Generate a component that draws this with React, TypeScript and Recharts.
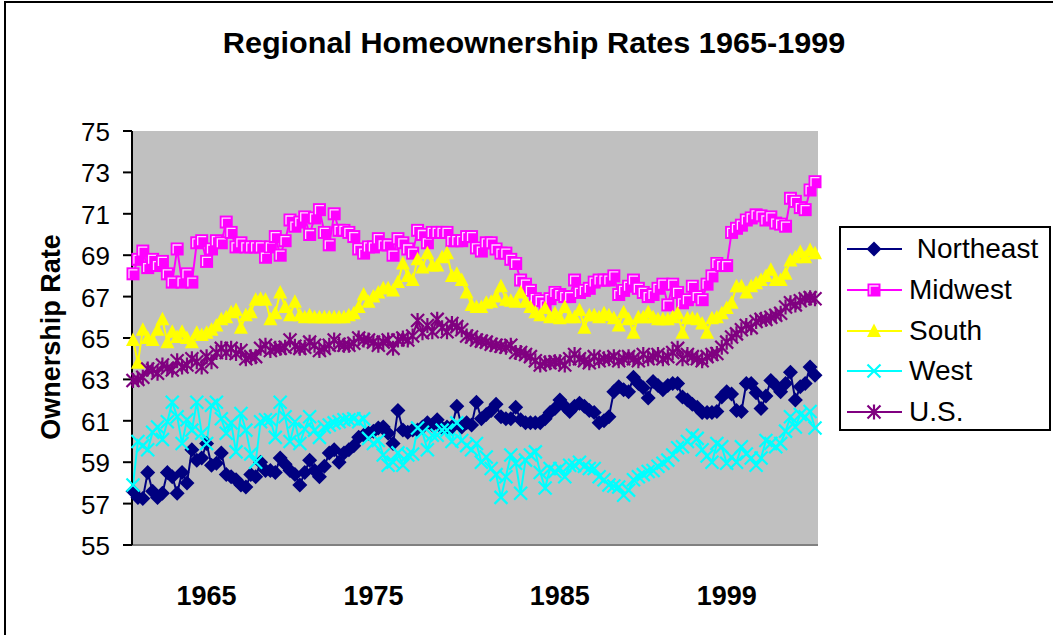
import * as React from 'react';
import { CartesianGrid, Legend, Line, LineChart, XAxis, YAxis } from 'recharts';

// quarterly categories, 1965 Q1 .. 1999 Q4
const years: number[] = [];
for (let y = 1965; y <= 1999; y++) years.push(y);
const quarters: string[] = years.flatMap((y) => [1, 2, 3, 4].map((q) => `${y} Q${q}`));

// the year labels under the plot are hand-placed text boxes in the original
const xTickCategories = ['1968 Q4', '1977 Q2', '1986 Q4', '1995 Q2'];
const xTickLabels = ['1965', '1975', '1985', '1999'];
const yTicks = [55, 57, 59, 61, 63, 65, 67, 69, 71, 73, 75];

const northeast = [
    57.6, 57.3, 57.25, 58.5, 57.6, 57.3, 57.5, 58.5, 58.3, 57.5,
    58.5, 58.0, 59.6, 59.1, 59.2, 59.9, 58.85, 58.95, 59.45, 58.4,
    58.3, 58.15, 57.9, 57.8, 58.4, 58.3, 59.0, 58.6, 58.6, 58.5,
    59.2, 58.9, 58.6, 58.4, 57.9, 58.5, 59.1, 58.6, 58.3, 58.8,
    59.45, 59.6, 59.0, 59.45, 59.6, 59.8, 60.2, 60.3, 60.4, 60.5,
    60.65, 60.7, 60.4, 59.9, 61.5, 60.55, 60.45, 60.55, 60.55, 60.7,
    60.9, 60.8, 61.05, 60.65, 60.7, 60.7, 61.7, 60.7, 60.9, 60.8,
    61.9, 61.1, 61.3, 61.5, 61.8, 61.2, 61.1, 61.1, 61.65, 61.05,
    60.9, 60.9, 60.9, 60.9, 61.1, 61.4, 61.6, 62.0, 61.7, 61.45,
    61.7, 61.85, 61.7, 61.5, 61.4, 60.9, 61.0, 61.2, 62.4, 62.65,
    62.5, 62.4, 63.1, 62.8, 62.6, 62.1, 62.9, 62.7, 62.5, 62.7,
    62.8, 62.8, 62.15, 62.0, 61.8, 61.65, 61.4, 61.4, 61.4, 61.45,
    62.15, 62.4, 62.3, 61.5, 61.45, 62.8, 62.8, 62.35, 61.6, 62.2,
    62.95, 62.7, 62.4, 62.8, 63.35, 62.0, 62.65, 62.8, 63.6, 63.2,
];

const midwest = [
    68.1, 68.8, 69.2, 68.4, 68.8, 68.5, 68.7, 68.1, 67.7, 69.3,
    67.7, 68.1, 67.7, 69.6, 69.7, 68.7, 69.3, 69.7, 69.6, 70.6,
    70.1, 69.4, 69.6, 69.4, 69.4, 69.4, 69.4, 68.9, 69.4, 69.9,
    69.0, 69.7, 70.7, 70.4, 70.6, 70.85, 70.0, 70.8, 71.2, 70.1,
    69.5, 71.0, 70.2, 70.2, 70.1, 69.9, 69.3, 69.1, 69.4, 69.4,
    69.8, 69.5, 69.5, 69.0, 69.8, 69.6, 69.3, 69.1, 70.2, 70.0,
    69.6, 70.1, 70.1, 70.1, 70.1, 69.7, 69.7, 69.7, 69.9, 69.9,
    69.35, 69.2, 69.6, 69.6, 69.3, 69.1, 69.1, 68.8, 68.6, 67.8,
    67.6, 67.3, 66.9, 66.8, 66.6, 66.9, 67.2, 67.1, 67.0, 67.0,
    67.8, 67.2, 67.3, 67.4, 67.7, 67.8, 67.8, 67.8, 68.0, 67.1,
    67.3, 67.5, 67.8, 67.4, 67.2, 67.0, 67.1, 67.4, 67.6, 66.6,
    67.6, 67.2, 66.7, 66.85, 67.5, 67.0, 66.85, 67.6, 68.0, 68.6,
    68.5, 68.5, 70.1, 70.3, 70.45, 70.7, 70.8, 70.95, 70.9, 70.7,
    70.85, 70.55, 70.5, 70.4, 71.75, 71.6, 71.3, 71.2, 72.15, 72.55,
];

const south = [
    64.9, 63.8, 65.4, 65.0, 64.9, 65.4, 65.9, 64.8, 65.3, 65.05,
    65.3, 65.0, 64.8, 65.25, 65.15, 65.25, 65.4, 65.6, 65.9, 66.0,
    66.25, 66.35, 65.5, 66.1, 66.25, 66.85, 66.9, 66.85, 65.9, 66.2,
    67.2, 66.5, 66.1, 66.75, 66.1, 66.0, 66.1, 66.0, 66.0, 66.0,
    66.0, 66.0, 66.0, 66.0, 66.1, 66.2, 66.5, 67.1, 66.75, 67.0,
    67.2, 67.4, 67.4, 67.3, 67.7, 68.6, 68.0, 67.8, 68.8, 68.4,
    69.1, 68.5, 68.5, 68.9, 69.1, 68.0, 68.1, 67.8, 67.2, 66.6,
    66.5, 66.5, 66.7, 66.75, 67.0, 67.5, 66.85, 66.8, 66.75, 67.2,
    66.75, 66.5, 66.25, 66.1, 66.45, 66.0, 66.2, 65.95, 66.5, 66.0,
    66.0, 66.35, 65.5, 66.1, 66.1, 66.0, 66.2, 66.1, 65.95, 65.6,
    66.25, 65.9, 65.25, 66.0, 66.0, 66.25, 66.0, 65.9, 65.9, 65.9,
    66.0, 66.2, 65.25, 65.95, 65.95, 65.9, 65.7, 65.25, 65.95, 66.0,
    66.2, 66.45, 66.7, 67.5, 67.5, 67.2, 67.5, 67.65, 67.8, 68.0,
    68.3, 67.8, 67.8, 68.1, 68.75, 68.9, 69.15, 68.9, 69.25, 69.1,
];

const west = [
    57.9, 60.0, 59.8, 59.6, 60.45, 60.7, 60.1, 60.95, 61.9, 61.2,
    59.9, 61.05, 60.55, 61.9, 60.4, 59.9, 61.75, 61.9, 61.1, 60.4,
    60.9, 59.5, 61.35, 60.55, 59.4, 59.0, 60.95, 61.05, 61.05, 60.2,
    61.9, 61.2, 60.0, 60.95, 59.9, 60.6, 61.2, 60.55, 60.2, 60.7,
    60.8, 60.9, 60.95, 61.05, 61.05, 61.1, 60.95, 61.1, 60.15, 59.9,
    60.05, 59.35, 58.85, 59.0, 59.45, 58.85, 59.35, 59.4, 60.65, 60.45,
    59.6, 60.3, 60.3, 60.55, 60.55, 60.0, 60.9, 60.05, 59.8, 59.6,
    59.9, 59.0, 59.25, 58.7, 58.4, 57.3, 58.3, 59.35, 58.95, 57.5,
    59.1, 59.35, 59.5, 58.5, 57.75, 58.7, 58.55, 58.7, 58.3, 58.85,
    58.85, 59.0, 58.8, 58.7, 58.7, 58.3, 58.15, 57.9, 57.85, 57.8,
    57.4, 57.65, 58.15, 58.3, 58.4, 58.55, 58.6, 58.8, 58.95, 59.1,
    59.35, 59.7, 59.75, 60.0, 60.3, 60.15, 59.6, 59.3, 59.0, 59.9,
    59.75, 58.95, 59.25, 59.0, 59.75, 59.4, 59.2, 58.85, 59.2, 60.05,
    59.9, 59.75, 59.9, 60.5, 61.2, 60.7, 61.3, 61.2, 61.45, 60.65,
];

const us = [
    62.95, 63.0, 63.1, 63.5, 63.45, 63.3, 63.7, 63.55, 63.45, 63.9,
    63.6, 63.7, 64.0, 63.85, 63.6, 64.1, 63.85, 64.3, 64.5, 64.3,
    64.5, 64.25, 64.4, 64.0, 64.1, 64.1, 64.5, 64.65, 64.4, 64.5,
    64.5, 64.55, 64.9, 64.6, 64.5, 64.55, 64.8, 64.65, 64.4, 64.5,
    64.65, 64.9, 64.7, 64.65, 64.65, 64.75, 65.0, 64.9, 64.9, 64.8,
    64.65, 64.8, 64.9, 64.5, 64.9, 65.0, 64.9, 65.1, 65.85, 65.25,
    65.6, 65.3, 65.9, 65.5, 65.3, 65.7, 65.55, 65.4, 65.1, 65.05,
    64.9, 64.85, 64.8, 64.7, 64.65, 64.6, 64.55, 64.65, 64.3, 64.3,
    64.2, 64.1, 63.9, 63.7, 63.8, 63.8, 63.85, 63.85, 63.7, 64.0,
    64.2, 64.0, 63.9, 63.8, 64.1, 63.9, 64.0, 64.0, 64.1, 63.9,
    64.0, 64.1, 64.0, 63.9, 64.2, 64.0, 64.1, 64.2, 64.0, 64.1,
    64.3, 64.5, 64.0, 64.2, 64.1, 64.0, 63.9, 64.1, 64.2, 64.25,
    64.55, 64.8, 65.05, 65.2, 65.4, 65.6, 65.5, 65.8, 65.9, 65.9,
    66.0, 66.1, 66.2, 66.5, 66.7, 66.6, 66.8, 66.9, 66.95, 66.9,
];

type Shape = 'diamond' | 'square' | 'triangle' | 'x' | 'star';

const seriesMeta: { key: string; name: string; color: string; shape: Shape }[] = [
    { key: 'northeast', name: ' Northeast', color: '#000080', shape: 'diamond' },
    { key: 'midwest', name: 'Midwest', color: '#FF00FF', shape: 'square' },
    { key: 'south', name: 'South', color: '#FFFF00', shape: 'triangle' },
    { key: 'west', name: 'West', color: '#00FFFF', shape: 'x' },
    { key: 'us', name: 'U.S.', color: '#800080', shape: 'star' },
];

const chartData = quarters.map((quarter, i) => ({
    quarter,
    northeast: northeast[i],
    midwest: midwest[i],
    south: south[i],
    west: west[i],
    us: us[i],
}));

const FONT = '"Liberation Sans", Arial, Helvetica, sans-serif';

function Marker({ shape, color, cx, cy }: { shape: Shape; color: string; cx: number; cy: number }) {
    switch (shape) {
        case 'diamond':
            return <path d={`M${cx},${cy - 7.5}L${cx + 7.5},${cy}L${cx},${cy + 7.5}L${cx - 7.5},${cy}Z`} fill={color} />;
        case 'square':
            return (
                <g>
                    <rect x={cx - 6.5} y={cy - 6.5} width={13} height={13} fill={color} />
                    <path d={`M${cx - 4},${cy + 4.5}V${cy - 4}H${cx + 4.5}`} fill="none" stroke="#FFD8FF" strokeWidth={1.3} />
                </g>
            );
        case 'triangle':
            return <path d={`M${cx},${cy - 7.5}L${cx + 7},${cy + 6}L${cx - 7},${cy + 6}Z`} fill={color} />;
        case 'x':
            return (
                <path
                    d={`M${cx - 6.5},${cy - 6.5}L${cx + 6.5},${cy + 6.5}M${cx - 6.5},${cy + 6.5}L${cx + 6.5},${cy - 6.5}`}
                    stroke={color}
                    strokeWidth={2.2}
                />
            );
        default:
            return (
                <path
                    d={`M${cx - 6.5},${cy - 6.5}L${cx + 6.5},${cy + 6.5}M${cx - 6.5},${cy + 6.5}L${cx + 6.5},${cy - 6.5}M${cx},${cy - 7.5}V${cy + 7.5}`}
                    stroke={color}
                    strokeWidth={2.2}
                />
            );
    }
}

const dotRenderer = (shape: Shape, color: string) => (props: any) => {
    const { cx, cy, index } = props;
    if (cx == null || cy == null) return <g key={`d-${index}`} />;
    return (
        <g key={`d-${index}`}>
            <Marker shape={shape} color={color} cx={cx} cy={cy} />
        </g>
    );
};

function YTick(props: any) {
    const { x, y, payload } = props;
    return (
        <text x={x} y={y} dy={10} textAnchor="end" fontFamily={FONT} fontSize={26} fill="#000">
            {payload.value}
        </text>
    );
}

function XTick(props: any) {
    const { x, y, payload } = props;
    const idx = xTickCategories.indexOf(payload.value);
    return (
        <text x={x} y={y + 60} textAnchor="middle" fontFamily={FONT} fontSize={27} fontWeight="bold" fill="#000">
            {idx >= 0 ? xTickLabels[idx] : ''}
        </text>
    );
}

function LegendBox() {
    return (
        <div
            style={{
                position: 'relative',
                width: 212,
                height: 205,
                boxSizing: 'border-box',
                border: '2px solid #000',
                background: '#fff',
                fontFamily: FONT,
            }}
        >
            {seriesMeta.map((s, i) => (
                <div key={s.key} style={{ position: 'absolute', left: 0, top: 6 + i * 40.8, height: 30, display: 'flex', alignItems: 'center' }}>
                    <svg width={66} height={30} style={{ display: 'block' }}>
                        <line x1={6} y1={15} x2={61} y2={15} stroke={s.color} strokeWidth={2} />
                        <Marker shape={s.shape} color={s.color} cx={33} cy={15} />
                    </svg>
                    <span style={{ fontSize: 28, lineHeight: '30px', whiteSpace: 'pre', color: '#000', marginLeft: 2 }}>{s.name}</span>
                </div>
            ))}
        </div>
    );
}

export default function App() {
    return (
        <div style={{ position: 'absolute', left: 0, top: 0, width: 1053, height: 635, overflow: 'hidden', background: '#fff' }}>
            {/* outer frame, only top and left edges fall inside the picture */}
            <div style={{ position: 'absolute', left: 4, top: 1, width: 1200, height: 800, borderTop: '2px solid #000', borderLeft: '2px solid #000' }} />

            <div
                style={{
                    position: 'absolute',
                    left: 533.5,
                    top: 28,
                    transform: 'translateX(-50%) scaleX(1.02)',
                    fontFamily: FONT,
                    fontWeight: 'bold',
                    fontSize: 30,
                    lineHeight: '30px',
                    whiteSpace: 'nowrap',
                }}
            >
                Regional Homeownership Rates 1965-1999
            </div>

            <div
                style={{
                    position: 'absolute',
                    left: 51,
                    top: 337,
                    transform: 'translate(-50%, -50%) rotate(-90deg)',
                    fontFamily: FONT,
                    fontWeight: 'bold',
                    fontSize: 27,
                    lineHeight: '27px',
                    whiteSpace: 'nowrap',
                }}
            >
                Ownership Rate
            </div>

            <div style={{ position: 'absolute', left: 0, top: 0 }}>
                <LineChart width={1053} height={635} data={chartData} margin={{ top: 131, right: 235, bottom: 0, left: 42 }}>
                    <CartesianGrid horizontal={false} vertical={false} fill="#C0C0C0" fillOpacity={1} stroke="none" />
                    <XAxis
                        dataKey="quarter"
                        height={90}
                        padding={{ left: 1, right: 3 }}
                        ticks={xTickCategories}
                        interval={0}
                        tick={<XTick />}
                        tickLine={false}
                        tickSize={0}
                        tickMargin={0}
                        axisLine={{ stroke: '#808080', strokeWidth: 2 }}
                    />
                    <XAxis
                        xAxisId="top"
                        orientation="top"
                        dataKey="quarter"
                        height={0}
                        padding={{ left: 1, right: 3 }}
                        tick={false}
                        tickLine={false}
                        axisLine={{ stroke: '#808080', strokeWidth: 2 }}
                    />
                    <YAxis
                        domain={[55, 75]}
                        ticks={yTicks}
                        interval={0}
                        width={90}
                        tick={<YTick />}
                        tickSize={9}
                        tickMargin={13}
                        tickLine={{ stroke: '#000', strokeWidth: 2 }}
                        axisLine={{ stroke: '#000', strokeWidth: 2 }}
                        allowDataOverflow
                    />
                    <YAxis
                        yAxisId="right"
                        orientation="right"
                        domain={[55, 75]}
                        width={0}
                        tick={false}
                        tickLine={false}
                        axisLine={{ stroke: '#808080', strokeWidth: 2 }}
                    />
                    {seriesMeta.map((s) => (
                        <Line
                            key={s.key}
                            type="linear"
                            dataKey={s.key}
                            name={s.name}
                            stroke={s.color}
                            strokeWidth={2}
                            dot={dotRenderer(s.shape, s.color)}
                            activeDot={false}
                            isAnimationActive={false}
                        />
                    ))}
                    <Legend
                        layout="vertical"
                        align="center"
                        verticalAlign="middle"
                        content={() => <LegendBox />}
                        wrapperStyle={{ left: 839, top: 226, width: 212, height: 205 }}
                    />
                </LineChart>
            </div>
        </div>
    );
}
